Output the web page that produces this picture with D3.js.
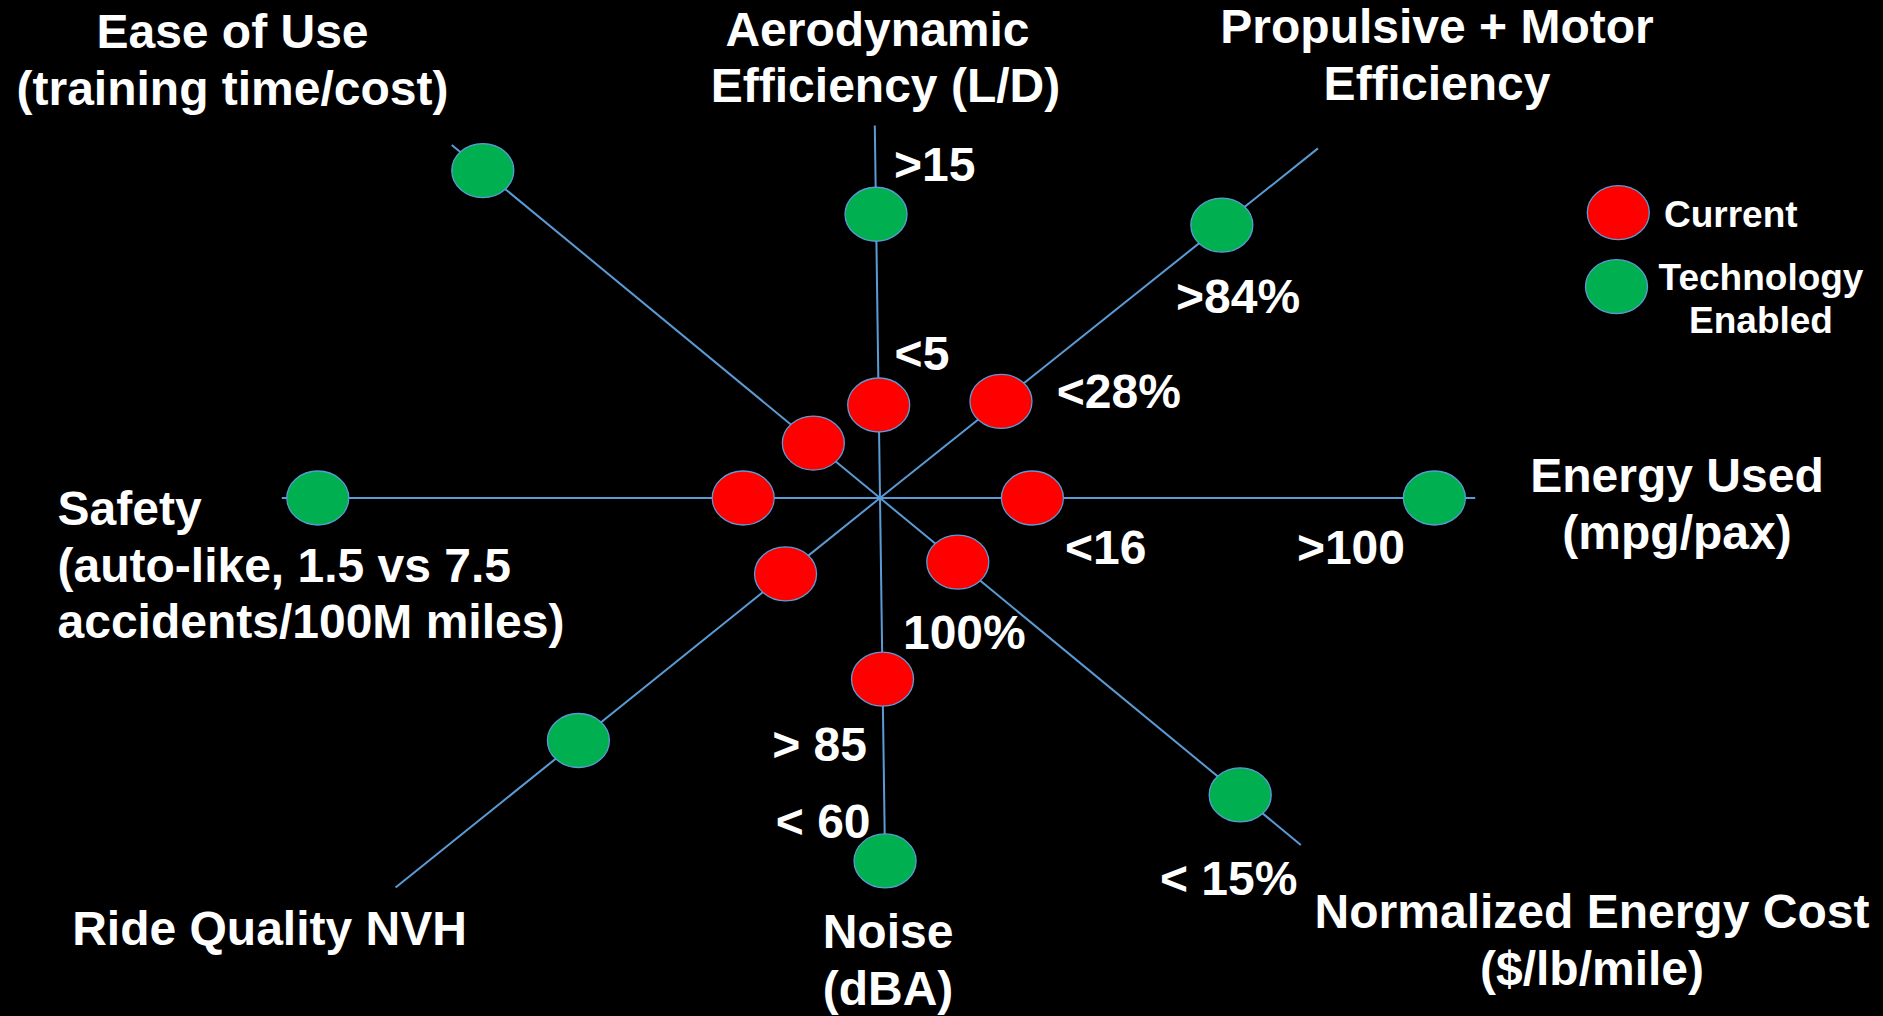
<!DOCTYPE html>
<html>
<head>
<meta charset="utf-8">
<script src="https://cdn.jsdelivr.net/npm/d3@7"></script>
<style>
  html, body { margin: 0; padding: 0; background: #000; }
  svg { display: block; }
  text { font-family: "Liberation Sans", Arial, Helvetica, sans-serif; font-weight: bold; fill: #fff; }
</style>
</head>
<body>
<svg id="chart" width="1883" height="1016"></svg>
<script>
// Spokes, in order counter-clockwise from the right-hand axis.
const axisTitles = [
  ["Energy Used", "(mpg/pax)"],
  ["Propulsive + Motor", "Efficiency"],
  ["Aerodynamic", "Efficiency (L/D)"],
  ["Ease of Use", "(training time/cost)"],
  ["Safety", "(auto-like, 1.5 vs 7.5", "accidents/100M miles)"],
  ["Ride Quality NVH"],
  ["Noise", "(dBA)"],
  ["Normalized Energy Cost", "($/lb/mile)"]
];

// Normalised radial scores (0 = hub, 1 = nominal spoke length)
const currentScore = [0.254, 0.258, 0.155, 0.144, 0.228, 0.202, 0.302, 0.168];
const enabledScore = [0.924, 0.729, 0.473, 0.858, 0.937, 0.645, 0.605, 0.778];
const spokeReach   = [0.992, 0.934, 0.621, 0.925, 0.997, 1.036, 0.620, 0.909];

// Value callouts per spoke
const currentLabels = ["<16", "<28%", "<5", "", "", "", "> 85", "100%"];
const enabledLabels = [">100", ">84%", ">15", "", "", "", "< 60", "< 15%"];

const seriesNames = [["Current"], ["Technology", "Enabled"]];

// ---- layout (positions and styling, kept apart from the values) ----
const W = 1883, H = 1016;
const cx = 880, cy = 498;
const spokeAngleDeg = [0, 38.6, 90.8, 140.5, 180, 218.8, 270.8, 320.5];
const lineH = 56.5;
const fontMain = 48, fontLegend = 37;
const colors = { current: "#FF0000", enabled: "#00B050", spoke: "#5B9BD5" };
const ell = { rx: 31, ry: 27 };

const titleLayout = [
  { x: [1677, 1677], y: 492, anchor: "middle" },
  { x: [1437, 1437], y: 43, anchor: "middle" },
  { x: [877.5, 885.5], y: 45.5, anchor: "middle" },
  { x: [232.5, 232.5], y: 48, anchor: "middle" },
  { x: [57.5, 57.5, 57.5], y: 525, anchor: "start" },
  { x: [269.5], y: 945, anchor: "middle" },
  { x: [888, 888], y: 948, anchor: "middle" },
  { x: [1592, 1592], y: 928, anchor: "middle" }
];

// callout offsets relative to the mark they describe
const currentLabelPos = [
  { dx: 32.6, dy: 66.4, anchor: "start" },
  { dx: 55.8, dy: 6.9, anchor: "start" },
  { dx: 15.9, dy: -35, anchor: "start" },
  null, null, null,
  { dx: -15.5, dy: 82.2, anchor: "end" },
  { dx: -54.8, dy: 86.4, anchor: "start" }
];
const enabledLabelPos = [
  { dx: -29.4, dy: 66.4, anchor: "end" },
  { dx: -45.8, dy: 88.3, anchor: "start" },
  { dx: 18, dy: -33.2, anchor: "start" },
  null, null, null,
  { dx: -14.5, dy: -22.8, anchor: "end" },
  { dx: -80.2, dy: 99.8, anchor: "start" }
];

const angle = d3.scaleOrdinal()
  .domain(d3.range(axisTitles.length))
  .range(spokeAngleDeg.map(d => d * Math.PI / 180));
const radius = d3.scaleLinear().domain([0, 1]).range([0, 600]);

function project(i, v) {
  const a = angle(i), r = radius(v);
  return [cx + r * Math.cos(a), cy - r * Math.sin(a)];
}

const svg = d3.select("#chart");
svg.append("rect").attr("width", W).attr("height", H).attr("fill", "#000");

// spokes
svg.append("g").selectAll("line")
  .data(spokeReach)
  .join("line")
  .attr("x1", cx).attr("y1", cy)
  .attr("x2", (d, i) => project(i, d)[0])
  .attr("y2", (d, i) => project(i, d)[1])
  .attr("stroke", colors.spoke)
  .attr("stroke-width", 2);

// markers
function drawSeries(values, fill) {
  svg.append("g").selectAll("ellipse")
    .data(values)
    .join("ellipse")
    .attr("cx", (d, i) => project(i, d)[0])
    .attr("cy", (d, i) => project(i, d)[1])
    .attr("rx", ell.rx).attr("ry", ell.ry)
    .attr("fill", fill)
    .attr("stroke", colors.spoke)
    .attr("stroke-width", 1.3);
}
drawSeries(currentScore, colors.current);
drawSeries(enabledScore, colors.enabled);

// value callouts
function drawCallouts(values, labels, pos) {
  svg.append("g").selectAll("text")
    .data(labels.map((t, i) => ({ t, i, v: values[i], p: pos[i] })).filter(d => d.t))
    .join("text")
    .attr("x", d => project(d.i, d.v)[0] + d.p.dx)
    .attr("y", d => project(d.i, d.v)[1] + d.p.dy)
    .attr("text-anchor", d => d.p.anchor)
    .attr("font-size", fontMain)
    .text(d => d.t);
}
drawCallouts(currentScore, currentLabels, currentLabelPos);
drawCallouts(enabledScore, enabledLabels, enabledLabelPos);

// axis titles
const titles = svg.append("g").selectAll("text")
  .data(axisTitles)
  .join("text")
  .attr("font-size", fontMain)
  .attr("text-anchor", (d, i) => titleLayout[i].anchor);
titles.each(function (lines, i) {
  const L = titleLayout[i];
  d3.select(this).selectAll("tspan")
    .data(lines)
    .join("tspan")
    .attr("x", (t, j) => L.x[j])
    .attr("y", (t, j) => L.y + j * lineH)
    .text(t => t);
});

// legend
const legend = svg.append("g");
const legendMarks = [
  { fill: colors.current, x: 1618.3, y: 212.7 },
  { fill: colors.enabled, x: 1616.5, y: 286.7 }
];
legend.selectAll("ellipse")
  .data(legendMarks)
  .join("ellipse")
  .attr("cx", d => d.x).attr("cy", d => d.y)
  .attr("rx", ell.rx).attr("ry", ell.ry)
  .attr("fill", d => d.fill)
  .attr("stroke", colors.spoke)
  .attr("stroke-width", 1.3);

legend.append("text")
  .attr("x", 1664).attr("y", 227)
  .attr("font-size", fontLegend)
  .text(seriesNames[0][0]);
legend.append("text")
  .attr("font-size", fontLegend)
  .attr("text-anchor", "middle")
  .selectAll("tspan")
  .data(seriesNames[1])
  .join("tspan")
  .attr("x", 1761)
  .attr("y", (d, j) => 290 + j * 43)
  .text(d => d);
</script>
</body>
</html>
